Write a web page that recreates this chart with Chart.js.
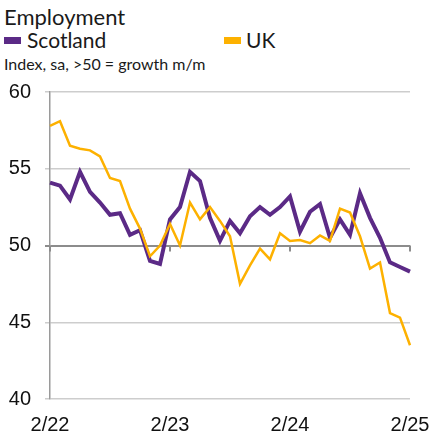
<!DOCTYPE html>
<html>
<head>
<meta charset="utf-8">
<script src="https://cdn.jsdelivr.net/npm/chart.js@4"></script>
<style>
  html, body { margin: 0; padding: 0; background: #fff; }
  #wrap { position: relative; width: 432px; height: 438px; }
  .txt { position: absolute; font-family: Lato, "Liberation Sans", sans-serif; color: #1a1a1a; white-space: nowrap; }
  #title { left: 4px; top: 3px; font-size: 22px; }
  .leg { top: 27px; font-size: 21px; }
  .box { position: absolute; width: 17px; height: 7px; }
  #sub { left: 4px; top: 54px; font-size: 16px; }
  canvas { position: absolute; left: 0; top: 0; }
</style>
</head>
<body>
<div id="wrap">
  <div id="title" class="txt">Employment</div>
  <div class="box" style="left:4px; top:37px; background:#5B2A86"></div>
  <div class="txt leg" style="left:27px">Scotland</div>
  <div class="box" style="left:224px; top:37px; background:#FDB100"></div>
  <div class="txt leg" style="left:246px">UK</div>
  <div id="sub" class="txt">Index, sa, &gt;50 = growth m/m</div>
  <canvas id="chart" width="432" height="438"></canvas>
</div>
<script>
const months = ['2/22', '3/22', '4/22', '5/22', '6/22', '7/22', '8/22', '9/22', '10/22', '11/22', '12/22', '1/23',
  '2/23', '3/23', '4/23', '5/23', '6/23', '7/23', '8/23', '9/23', '10/23', '11/23', '12/23', '1/24',
  '2/24', '3/24', '4/24', '5/24', '6/24', '7/24', '8/24', '9/24', '10/24', '11/24', '12/24', '1/25', '2/25'];

const scotland = [54.1, 53.9, 53.0, 54.8, 53.5, 52.8, 52.0, 52.1, 50.7, 51.0, 49.0, 48.8,
  51.7, 52.5, 54.8, 54.2, 51.8, 50.3, 51.6, 50.8, 51.9, 52.5, 52.0, 52.5,
  53.2, 50.9, 52.2, 52.7, 50.5, 51.7, 50.7, 53.4, 51.8, 50.5, 48.9, 48.6, 48.3];

const uk = [57.8, 58.1, 56.5, 56.3, 56.2, 55.8, 54.4, 54.2, 52.4, 51.1, 49.3, 50.0,
  51.4, 50.0, 52.8, 51.7, 52.5, 51.6, 50.6, 47.5, 48.7, 49.8, 49.1, 50.8,
  50.3, 50.35, 50.15, 50.65, 50.3, 52.4, 52.15, 50.6, 48.5, 48.9, 45.6, 45.3, 43.5];

const yTicks = [40, 45, 50, 55, 60];
const xTickLabels = ['2/22', '2/23', '2/24', '2/25'];

// small tick marks hanging off the 50 line
const midTicks = {
  id: 'midTicks',
  afterDatasetsDraw(chart) {
    const { ctx, scales } = chart;
    const y50 = scales.y.getPixelForValue(50);
    ctx.save();
    ctx.strokeStyle = '#8c8c8c';
    ctx.lineWidth = 2;
    months.forEach((m, i) => {
      if (!xTickLabels.includes(m)) return;
      const x = scales.x.getPixelForValue(i);
      ctx.beginPath();
      ctx.moveTo(x, y50);
      ctx.lineTo(x, y50 + 6);
      ctx.stroke();
    });
    ctx.restore();
  }
};

new Chart(document.getElementById('chart').getContext('2d'), {
  type: 'line',
  data: {
    labels: months,
    datasets: [
      {
        label: 'UK',
        data: uk,
        borderColor: '#FDB100',
        borderWidth: 2.5,
        pointRadius: 0,
        tension: 0,
      },
      {
        label: 'Scotland',
        data: scotland,
        borderColor: '#5B2A86',
        borderWidth: 4,
        pointRadius: 0,
        tension: 0,
      },
    ]
  },
  options: {
    responsive: false,
    animation: false,
    layout: { padding: { left: 0, right: 22, top: 92, bottom: 0 } },
    plugins: { legend: { display: false }, tooltip: { enabled: false } },
    scales: {
      x: {
        grid: { display: false, drawTicks: false },
        border: { display: false },
        afterFit: function(scale) {
          scale.height = 39;
          scale.paddingLeft = 0;
          scale.paddingRight = 0;
        },
        ticks: {
          autoSkip: false,
          maxRotation: 0,
          padding: 14,
          color: '#111',
          font: { family: 'Liberation Sans', size: 20 },
          callback: function(value, index) {
            const m = months[index];
            return xTickLabels.includes(m) ? m : '';
          },
        },
      },
      y: {
        min: 40,
        max: 60,
        afterBuildTicks: function(scale) {
          scale.ticks = yTicks.map(v => ({ value: v }));
        },
        afterFit: function(scale) { scale.width = 50; },
        border: { color: '#9a9a9a', width: 1.5 },
        grid: {
          color: ctx => ctx.tick && ctx.tick.value === 50 ? '#8c8c8c' : '#cdcdcd',
          lineWidth: ctx => ctx.tick && ctx.tick.value === 50 ? 2 : 1.5,
          tickLength: 5,
        },
        ticks: {
          padding: 14,
          color: '#111',
          font: { family: 'Liberation Sans', size: 20 },
        },
      },
    },
  },
  plugins: [midTicks],
});
</script>
</body>
</html>
